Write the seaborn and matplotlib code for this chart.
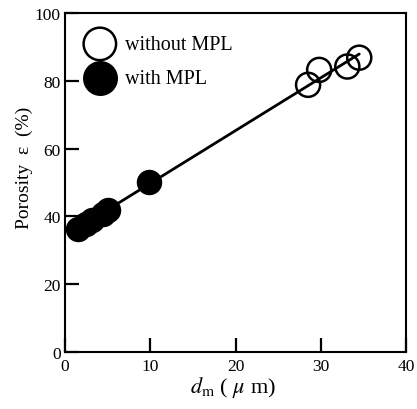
import matplotlib
matplotlib.use("Agg")
import matplotlib.pyplot as plt
import seaborn as sns
import numpy as np
import pandas as pd

# Mean pore diameter d_m (um) and porosity (%)
d_without = [28.5, 29.8, 33.1, 34.5]
p_without = [78.8, 83.2, 84.2, 86.8]
d_with = [1.5, 2.4, 3.2, 4.4, 5.0, 9.9]
p_with = [36.3, 37.8, 39.0, 40.8, 42.0, 50.0]

x_ticks = [0, 10, 20, 30, 40]
y_ticks = [0, 20, 40, 60, 80, 100]

sns.set_style("ticks")
plt.rcParams["font.family"] = ["Liberation Serif", "DejaVu Serif"]
plt.rcParams["mathtext.fontset"] = "stix"
plt.rcParams["text.color"] = "black"
plt.rcParams["axes.labelcolor"] = "black"

fig = plt.figure(figsize=(4.17, 4.10), dpi=100)
ax = fig.add_axes([0.156, 0.139, 0.818, 0.827])

all_d = np.array(d_without + d_with)
all_p = np.array(p_without + p_with)
sns.regplot(x=all_d, y=all_p, scatter=False, ci=None, ax=ax,
            line_kws=dict(color="black", lw=2.0, zorder=1))

df_wo = pd.DataFrame({"d": d_without, "p": p_without})
df_w = pd.DataFrame({"d": d_with, "p": p_with})
sns.scatterplot(data=df_wo, x="d", y="p", ax=ax, s=300, marker="o",
                facecolors="none", edgecolor="black", linewidth=1.8,
                label="without MPL", zorder=3)
sns.scatterplot(data=df_w, x="d", y="p", ax=ax, s=300, marker="o",
                color="black", edgecolor="black", linewidth=1.0,
                label="with MPL", zorder=3)

ax.set_xlim(0, 40)
ax.set_ylim(0, 100)
ax.set_xticks(x_ticks)
ax.set_yticks(y_ticks)
ax.tick_params(direction="in", length=10, width=1.6, labelsize=12.5,
               colors="black")
ax.tick_params(axis="x", pad=4.5)
ax.tick_params(axis="y", pad=3)
for sp in ax.spines.values():
    sp.set_visible(True)
    sp.set_linewidth(1.5)
    sp.set_color("black")

ax.set_xlabel(r"$d_\mathrm{m}$ ( $\mu$ m)", fontsize=16)
ax.set_ylabel("Porosity  ε  (%)", fontsize=14)
ax.xaxis.set_label_coords(0.491, -0.066)
ax.yaxis.set_label_coords(-0.094, 0.546)

leg = ax.legend(loc="upper left", frameon=False, fontsize=14.5,
                markerscale=1.35, handletextpad=0.25, labelspacing=0.75,
                borderaxespad=0.7, bbox_to_anchor=(-0.022, 1.0))
for h in leg.legend_handles:
    h.set_linewidth(1.8)

fig.savefig("out.png", dpi=100)
